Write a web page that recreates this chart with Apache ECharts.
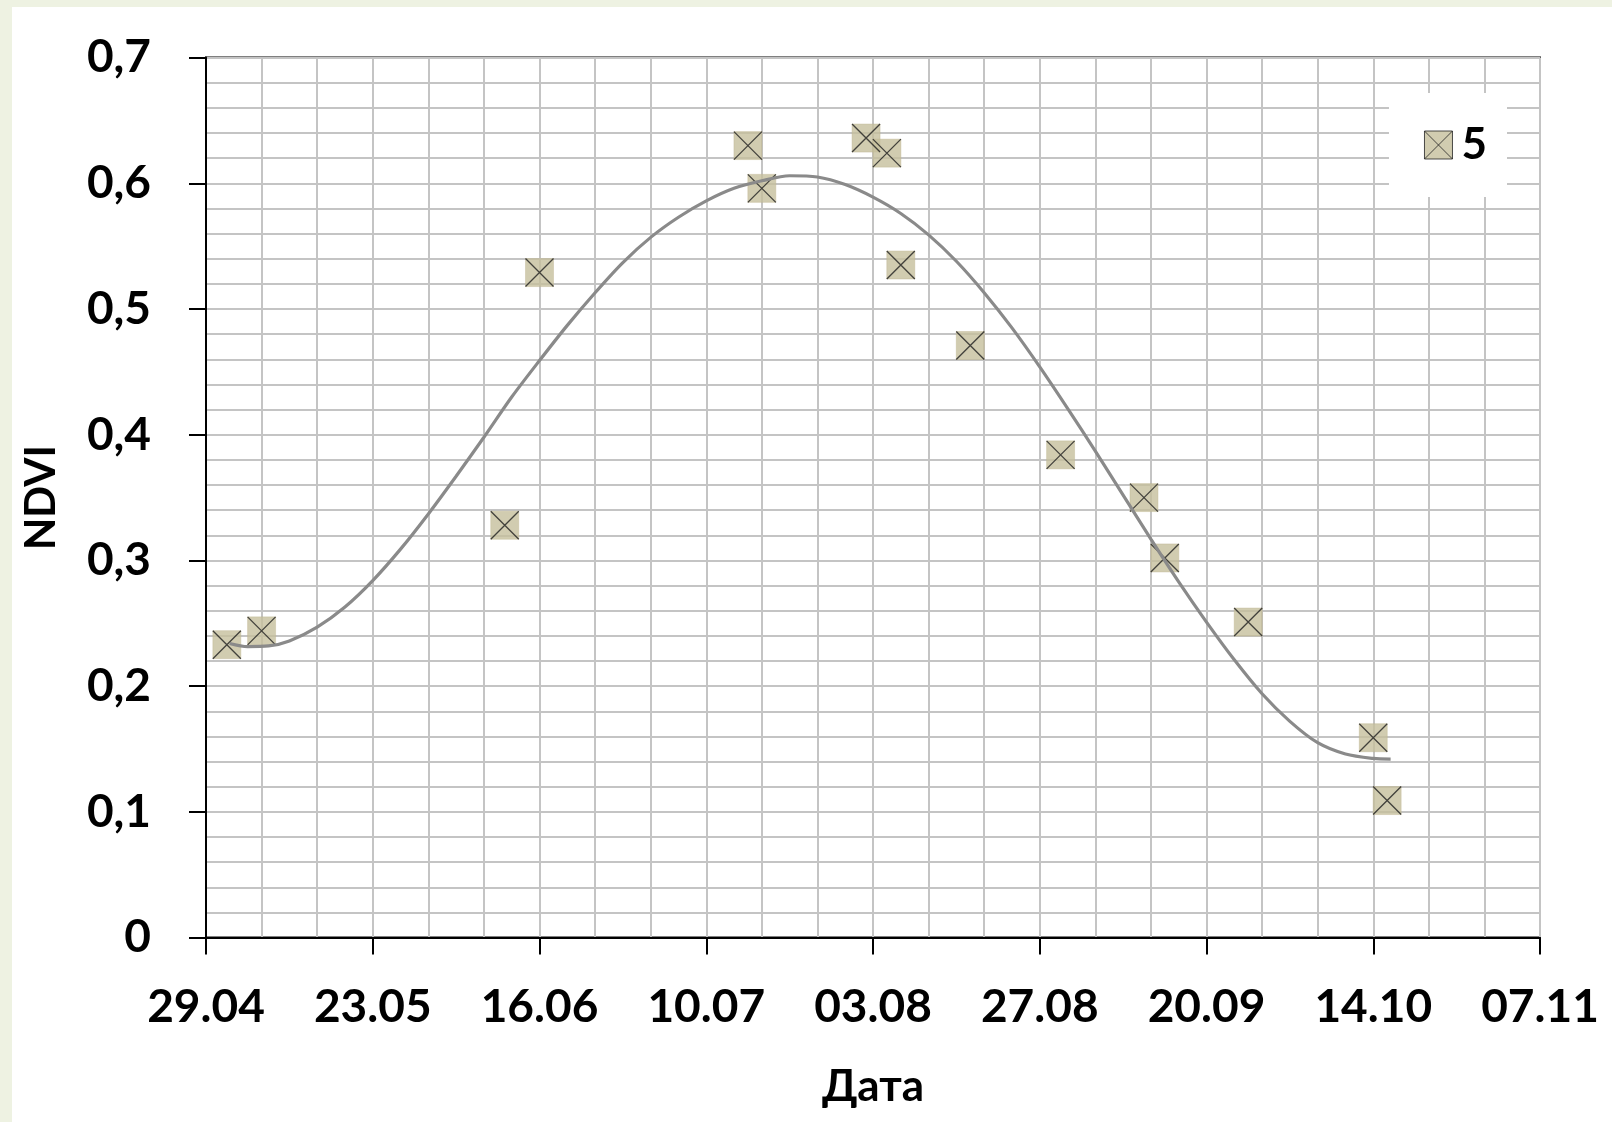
<!DOCTYPE html>
<html>
<head>
<meta charset="utf-8">
<script src="https://cdn.jsdelivr.net/npm/echarts@6/dist/echarts.min.js"></script>
<style>
  html, body { margin: 0; padding: 0; background: #eef2e2; width: 1612px; height: 1122px; overflow: hidden; }
  #c { position: absolute; left: 12px; top: 7px; width: 1600px; height: 1115px; background: #ffffff; }
</style>
</head>
<body>
<div id="c"></div>
<script>
// ---- data ----
const seriesName = '5';
const startDate = '29.04';
const xTickLabels = ['29.04', '23.05', '16.06', '10.07', '03.08', '27.08', '20.09', '14.10', '07.11'];
const yTickLabels = ['0', '0,1', '0,2', '0,3', '0,4', '0,5', '0,6', '0,7'];
const pointDates = ['02.05', '07.05', '11.06', '16.06', '16.07', '18.07', '02.08', '05.08', '07.08', '17.08', '30.08', '11.09', '14.09', '26.09', '14.10', '16.10'];
const pointNdvi  = [0.233, 0.244, 0.328, 0.529, 0.630, 0.596, 0.636, 0.624, 0.535, 0.471, 0.384, 0.350, 0.302, 0.251, 0.159, 0.109];
// trend curve: days after 29.04 and NDVI
const trendDays = [3.4, 6, 9, 12, 16, 20, 24, 28, 32, 36, 40, 44, 48, 52, 56, 60, 64, 68, 72, 76, 80, 84, 88, 92, 96, 100, 104, 108, 112, 116, 120, 124, 128, 132, 136, 140, 144, 148, 152, 156, 160, 164, 168, 170.5];
const trendNdvi = [0.234, 0.2315, 0.232, 0.236, 0.247, 0.263, 0.284, 0.309, 0.337, 0.367, 0.398, 0.430, 0.459, 0.487, 0.513, 0.537, 0.557, 0.573, 0.586, 0.596, 0.602, 0.606, 0.605, 0.599, 0.589, 0.576, 0.559, 0.538, 0.513, 0.485, 0.454, 0.421, 0.387, 0.352, 0.317, 0.283, 0.251, 0.221, 0.194, 0.172, 0.155, 0.146, 0.1425, 0.142];

// ---- helpers ----
function dayOffset(ddmm) {
  const [d, m] = ddmm.split('.').map(Number);
  const [d0, m0] = startDate.split('.').map(Number);
  return Math.round((Date.UTC(2001, m - 1, d) - Date.UTC(2001, m0 - 1, d0)) / 86400000);
}
const pts = pointDates.map((s, i) => [dayOffset(s), pointNdvi[i]]);
const trend = trendDays.map((d, i) => [d, trendNdvi[i]]);

const FONT = 'Lato';
const markerColor = '#c6bf9c';
const gridColor = '#c4c4c4';
const xPath = 'path://M0,0L10,10M10,0L0,10';

const chart = echarts.init(document.getElementById('c'), null, { renderer: 'canvas' });
chart.setOption({
  animation: false,
  textStyle: { fontFamily: FONT, fontWeight: 'bold', color: '#000' },
  grid: {
    left: 189.5, right: 72, top: 50.6, bottom: 184.4,
    show: true, borderColor: '#000', borderWidth: 2, backgroundColor: '#fff'
  },
  legend: {
    show: true,
    right: 105, top: 86,
    backgroundColor: '#fff',
    padding: [30, 20, 30, 35],
    itemWidth: 28, itemHeight: 28, itemGap: 10,
    textStyle: { fontFamily: FONT, fontWeight: 'bold', fontSize: 44, color: '#000', padding: [0, 0, 0, 4] },
    data: [{
      name: seriesName,
      icon: 'path://M0,0H10V10H0ZM0,0L10,10M10,0L0,10',
      itemStyle: { color: markerColor, borderColor: '#222', borderWidth: 1 }
    }],
    selectedMode: false
  },
  xAxis: {
    type: 'value', min: 0, max: 192, interval: 24,
    name: 'Дата', nameLocation: 'middle', nameGap: 127,
    nameTextStyle: { fontFamily: FONT, fontWeight: 'bold', fontSize: 44, color: '#000' },
    axisLine: { show: true, onZero: false, lineStyle: { color: '#000', width: 2 } },
    axisTick: { show: true, inside: false, length: 17, lineStyle: { color: '#000', width: 2 } },
    axisLabel: {
      margin: 47, fontFamily: FONT, fontWeight: 'bold', fontSize: 46, color: '#000',
      formatter: v => xTickLabels[Math.round(v / 24)]
    },
    splitLine: { show: true, lineStyle: { color: gridColor, width: 2 } },
    minorTick: { show: false, splitNumber: 3 },
    minorSplitLine: { show: true, lineStyle: { color: gridColor, width: 2 } }
  },
  yAxis: {
    type: 'value', min: 0, max: 0.7, interval: 0.1,
    name: 'NDVI', nameLocation: 'middle', nameGap: 144, nameRotate: 90,
    nameTextStyle: { fontFamily: FONT, fontWeight: 'bold', fontSize: 42, color: '#000' },
    axisLine: { show: true, onZero: false, lineStyle: { color: '#000', width: 2 } },
    axisTick: { show: true, inside: false, length: 17, lineStyle: { color: '#000', width: 2 } },
    axisLabel: {
      margin: 55, fontFamily: FONT, fontWeight: 'bold', fontSize: 46, color: '#000',
      formatter: v => yTickLabels[Math.round(v * 10)]
    },
    splitLine: { show: true, lineStyle: { color: gridColor, width: 2 } },
    minorTick: { show: false, splitNumber: 5 },
    minorSplitLine: { show: true, lineStyle: { color: gridColor, width: 2 } }
  },
  series: [
    {
      name: seriesName, type: 'scatter', data: pts, symbol: 'rect', symbolSize: 28,
      itemStyle: { color: markerColor, borderColor: '#bdb58f', borderWidth: 0.5 },
      emphasis: { disabled: true }, z: 2
    },
    {
      name: 'x-mark', type: 'scatter', data: pts, symbol: xPath, symbolSize: 28,
      itemStyle: { color: 'none', borderColor: '#1e1e1e', borderWidth: 1.3 },
      emphasis: { disabled: true }, z: 3
    },
    {
      name: 'trend', type: 'line', data: trend, smooth: 0.3, showSymbol: false, symbol: 'none',
      lineStyle: { color: '#8a8a8a', width: 3.2 },
      emphasis: { disabled: true }, z: 4
    }
  ]
});
</script>
</body>
</html>
